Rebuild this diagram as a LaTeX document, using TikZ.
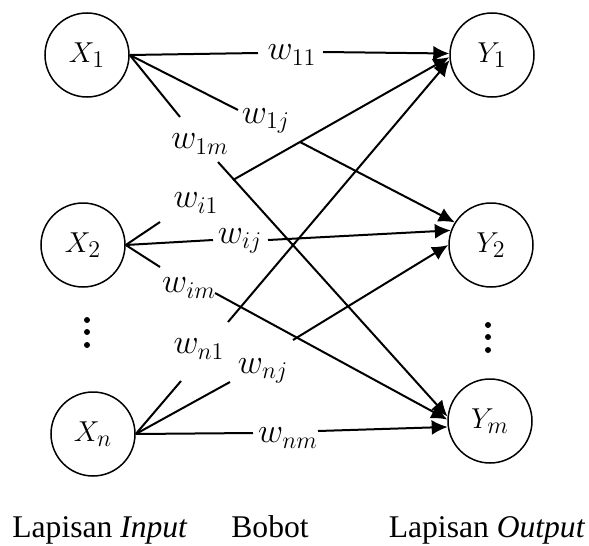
\documentclass[tikz,border=0pt]{standalone}
\usepackage{fontspec}
\setmainfont{Liberation Serif}
\usetikzlibrary{arrows.meta}
\DeclareMathSizes{16.5}{16.5}{13}{10}
\DeclareMathSizes{14.5}{14.5}{11.5}{9}
\begin{document}
\begin{tikzpicture}[x=0.5pt,y=-0.5pt,
  neuron/.style={circle,draw,line width=0.75pt,minimum size=42pt,inner sep=0pt,font=\fontsize{14.5}{17}\selectfont},
  wlab/.style={inner sep=1pt,font=\fontsize{16.5}{19}\selectfont},
  conn/.style={line width=1pt},
  arr/.style={conn,-{Latex[length=8pt,width=7.5pt]}},
  layertext/.style={anchor=base,inner sep=0pt,font=\fontsize{15.8}{18}\selectfont},
  dotmark/.style={fill,circle,inner sep=0pt,minimum size=3pt}]
\useasboundingbox (0,0) rectangle (589,546);
% neurons
\node[neuron] (X1) at (87,55) {$X_1$};
\node[neuron] (X2) at (83,245) {$X_2$};
\node[neuron] (Xn) at (93,434) {$X_n$};
\node[neuron] (Y1) at (492,55) {$Y_1$};
\node[neuron] (Y2) at (491,245) {$Y_2$};
\node[neuron] (Ym) at (490,421) {$Y_m$};
% dots
\node[dotmark] (dl1) at (87,320) {};
\node[dotmark] (dl2) at (87,332) {};
\node[dotmark] (dl3) at (87,345) {};
\node[dotmark] (dr1) at (488,325) {};
\node[dotmark] (dr2) at (488,337) {};
\node[dotmark] (dr3) at (488,350) {};
% weight labels
\node[wlab] (l11) at (292,55) {$w_{11}$};
\node[wlab] (l1j) at (266,121) {$w_{1j}$};
\node[wlab] (l1m) at (200,144) {$w_{1m}$};
\node[wlab] (li1) at (196,203) {$w_{i1}$};
\node[wlab] (lij) at (240,241) {$w_{ij}$};
\node[wlab] (lim) at (189,288) {$w_{im}$};
\node[wlab] (ln1) at (199,349) {$w_{n1}$};
\node[wlab] (lnj) at (263,371) {$w_{nj}$};
\node[wlab] (lnm) at (288,438) {$w_{nm}$};
% break coordinates
\coordinate (a11) at (258,53);  \coordinate (b11) at (323,52);
\coordinate (a1j) at (238,110); \coordinate (b1j) at (300,142);
\coordinate (a1m) at (180,117); \coordinate (b1m) at (218,162);
\coordinate (ai1) at (160,222); \coordinate (bi1) at (233,180);
\coordinate (aij) at (213,240); \coordinate (bij) at (268,240);
\coordinate (aim) at (160,267); \coordinate (bim) at (215,293);
\coordinate (an1) at (181,381); \coordinate (bn1) at (228,322);
\coordinate (anj) at (230,382); \coordinate (bnj) at (293,340);
\coordinate (anm) at (253,433); \coordinate (bnm) at (318,431);
% from inputs
\draw[conn] (X1.east) -- (a11);
\draw[conn] (X1.east) -- (a1j);
\draw[conn] (X1.east) -- (a1m);
\draw[conn] (X2.east) -- (ai1);
\draw[conn] (X2.east) -- (aij);
\draw[conn] (X2.east) -- (aim);
\draw[conn] (Xn.east) -- (an1);
\draw[conn] (Xn.east) -- (anj);
\draw[conn] (Xn.east) -- (anm);
% to outputs
\draw[arr] (b11) -- (Y1.178);
\draw[arr] (bi1) -- (Y1.183);
\draw[arr] (bn1) -- (Y1.187);
\draw[arr] (b1j) -- (Y2.148);
\draw[arr] (bij) -- (Y2.160);
\draw[arr] (bnj) -- (Y2.180);
\draw[arr] (b1m) -- (Ym.174);
\draw[arr] (bim) -- (Ym.178);
\draw[arr] (bnm) -- (Ym.188);
% layer captions
\node[layertext] (c1) at (100,537) {Lapisan \textit{Input}};
\node[layertext] (c2) at (270,537) {Bobot};
\node[layertext] (c3) at (487,537) {Lapisan \textit{Output}};
\end{tikzpicture}
\end{document}
